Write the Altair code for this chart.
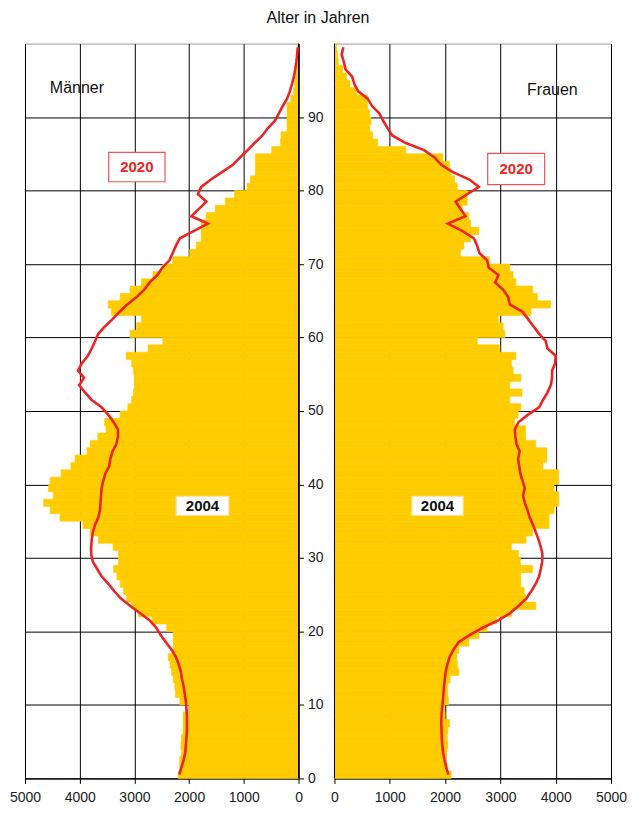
import altair as alt
import pandas as pd

ages = list(range(100))

male_2004 = [2200, 2170, 2170, 2140, 2150, 2140, 2110, 2110, 2110, 2000,
             2170, 2250, 2260, 2290, 2320, 2350, 2380, 2290, 2290, 2290,
             2410, 2680, 2930, 3050, 3140, 3200, 3260, 3320, 3380, 3290,
             3290, 3390, 3660, 3810, 3940, 4360, 4540, 4660, 4480, 4570,
             4540, 4340, 4160, 4085, 3870, 3810, 3670, 3520, 3545, 3260,
             3120, 3050, 3020, 3000, 3000, 3020, 3050, 3150, 2750, 2480,
             3080, 2960, 2870, 3420, 3480, 3260, 3080, 2870, 2660, 2480,
             2300, 1990, 1870, 1780, 1780, 1780, 1690, 1520, 1340, 1170,
             940, 880, 790, 790, 790, 490, 330, 320, 210, 210,
             210, 210, 140, 90, 70, 60, 50, 40, 30, 20]

male_2020 = [2180, 2140, 2100, 2070, 2060, 2050, 2040, 2040, 2040, 2050,
             2060, 2080, 2100, 2130, 2150, 2190, 2240, 2320, 2420, 2520,
             2600, 2720, 2900, 3080, 3250, 3370, 3480, 3600, 3680, 3760,
             3790, 3790, 3780, 3760, 3720, 3660, 3630, 3620, 3610, 3600,
             3570, 3530, 3460, 3440, 3400, 3330, 3300, 3300, 3380, 3480,
             3600, 3780, 3900, 4010, 3920, 4030, 3960, 3850, 3780, 3720,
             3660, 3540, 3400, 3270, 3130, 2960, 2820, 2720, 2580, 2490,
             2360, 2300, 2240, 2170, 1910, 1655, 1960, 1820, 1685, 1840,
             1780, 1600, 1400, 1200, 1070, 930, 800, 660, 560, 430,
             360, 290, 210, 160, 120, 85, 60, 40, 25, 15]

female_2004 = [2110, 2050, 2020, 2030, 2050, 2040, 2050, 2080, 2000, 1990,
               2060, 2050, 2050, 2090, 2250, 2220, 2210, 2250, 2430, 2610,
               2760, 2930, 3200, 3640, 3460, 3430, 3370, 3370, 3580, 3360,
               3330, 3200, 3465, 3585, 3880, 3880, 3970, 4055, 4055, 3970,
               4055, 4055, 3770, 3840, 3840, 3640, 3455, 3455, 3260, 3320,
               3370, 3170, 3390, 3170, 3370, 3230, 3200, 3280, 2990, 2580,
               3080, 3050, 2965, 3555, 3910, 3670, 3585, 3280, 3230, 3170,
               2800, 2280, 2340, 2460, 2610, 2460, 2430, 2310, 2400, 2400,
               2220, 2170, 2110, 2080, 1960, 1290, 780, 690, 640, 660,
               630, 600, 600, 400, 280, 220, 150, 70, 55, 40]

female_2020 = [2060, 2020, 1990, 1965, 1950, 1940, 1935, 1930, 1935, 1945,
               1960, 1970, 1980, 1995, 2010, 2040, 2080, 2150, 2240, 2440,
               2680, 2960, 3180, 3330, 3470, 3560, 3640, 3700, 3730, 3755,
               3760, 3730, 3690, 3640, 3590, 3530, 3490, 3440, 3410, 3440,
               3400, 3360, 3340, 3320, 3350, 3290, 3270, 3260, 3330, 3500,
               3700, 3770, 3850, 3910, 3935, 3935, 3990, 4000, 3850, 3820,
               3700, 3600, 3500, 3400, 3170, 3140, 3050, 2905, 2965, 2790,
               2760, 2620, 2580, 2520, 2310, 2050, 2370, 2280, 2190, 2400,
               2610, 2440, 2140, 1930, 1810, 1620, 1280, 1045, 960, 880,
               810, 680, 600, 430, 360, 320, 200, 170, 130, 160]

x_ticks = [0, 1000, 2000, 3000, 4000, 5000]
age_ticks = [0, 10, 20, 30, 40, 50, 60, 70, 80, 90]

FONT = "Liberation Sans"
YELLOW = "#FFCC00"
RED = "#EE2424"


def panel_df(v04, v20):
    return pd.DataFrame({
        "age": ages,
        "age_top": [a + 1 for a in ages],
        "age_mid": [a + 0.5 for a in ages],
        "v2004": v04,
        "v2020": v20,
        "zero": [0] * len(ages),
    })


def make_panel(df, reverse, y_axis, boxes, texts, width):
    xscale = alt.Scale(domain=[0, 5000], reverse=reverse, nice=False, zero=False)
    yscale = alt.Scale(domain=[0, 100], nice=False, zero=False)
    xaxis = alt.Axis(values=x_ticks, format="d", title=None, grid=True,
                     gridColor="#000", gridWidth=1, domainColor="#000",
                     tickColor="#000", tickSize=5, labelFontSize=14,
                     labelPadding=7, labelColor="#222", labelFont=FONT,
                     labelFlush=False)
    base = alt.Chart(df)
    bars = base.mark_rect(color=YELLOW, stroke=YELLOW, strokeWidth=0.6).encode(
        x=alt.X("v2004:Q", scale=xscale, axis=xaxis),
        x2="zero:Q",
        y=alt.Y("age:Q", scale=yscale, axis=y_axis),
        y2="age_top:Q",
    )
    edge = alt.Chart(pd.DataFrame({"x": [0], "y": [0], "y2": [100]})).mark_rule(
        color="#000", strokeWidth=1).encode(x="x:Q", y="y:Q", y2="y2:Q")
    line = base.mark_line(color=RED, strokeWidth=2.6).encode(
        x="v2020:Q", y="age_mid:Q", order="age:Q")
    box_layer = alt.Chart(pd.DataFrame(boxes)).mark_rect(
        fill="white", strokeWidth=1.2).encode(
        x="x:Q", x2="x2:Q", y="y:Q", y2="y2:Q",
        stroke=alt.Stroke("stroke:N", scale=None))
    tdf = pd.DataFrame(texts)
    layers = [bars, edge, line, box_layer]
    for _, r in tdf.iterrows():
        one = pd.DataFrame([r])
        layers.append(alt.Chart(one).mark_text(
            font=FONT, fontSize=float(r["size"]), fontWeight=r["weight"],
            color=r["color"], align=r["align"], baseline="middle").encode(
            x="x:Q", y="y:Q", text="text:N"))
    return alt.layer(*layers).properties(width=width, height=736)


left_axis = alt.Axis(orient="right", values=age_ticks, title=None, grid=True,
                     gridColor="#000", gridWidth=1, domainColor="#000",
                     tickColor="#000", tickSize=5, labelFontSize=14,
                     labelPadding=4, labelColor="#222", labelFont=FONT)
right_axis = alt.Axis(orient="left", values=age_ticks, title=None, grid=True,
                      gridColor="#000", gridWidth=1, domainColor="#000",
                      labels=False, ticks=False)

left = make_panel(
    panel_df(male_2004, male_2020), True, left_axis,
    boxes=[{"x": 3470, "x2": 2440, "y": 81.2, "y2": 85.2, "stroke": "#EE5555"},
           {"x": 2236, "x2": 1273, "y": 35.8, "y2": 38.4, "stroke": "#F3E3A0"}],
    texts=[{"x": 2955, "y": 83.2, "text": "2020", "size": 15, "weight": "bold", "color": RED, "align": "center"},
           {"x": 1755, "y": 37.1, "text": "2004", "size": 15, "weight": "bold", "color": "#111", "align": "center"},
           {"x": 4545, "y": 93.9, "text": "Männer", "size": 16, "weight": "normal", "color": "#111", "align": "left"}],
    width=274)

right = make_panel(
    panel_df(female_2004, female_2020), False, right_axis,
    boxes=[{"x": 2770, "x2": 3800, "y": 80.8, "y2": 85.05, "stroke": "#EE5555"},
           {"x": 1400, "x2": 2327, "y": 35.8, "y2": 38.4, "stroke": "#F3E3A0"}],
    texts=[{"x": 3285, "y": 82.9, "text": "2020", "size": 15, "weight": "bold", "color": RED, "align": "center"},
           {"x": 1863, "y": 37.1, "text": "2004", "size": 15, "weight": "bold", "color": "#111", "align": "center"},
           {"x": 3940, "y": 93.7, "text": "Frauen", "size": 16, "weight": "normal", "color": "#111", "align": "center"}],
    width=277)

chart = alt.hconcat(left, right, spacing=36, bounds="flush").properties(
    title=alt.TitleParams("Alter in Jahren", font=FONT, fontSize=16,
                          fontWeight="normal", color="#111", anchor="middle",
                          offset=16),
    padding=0,
).configure_view(stroke="#999", strokeWidth=1)

chart.save("out.html", embed_options={"renderer": "svg", "actions": False})
